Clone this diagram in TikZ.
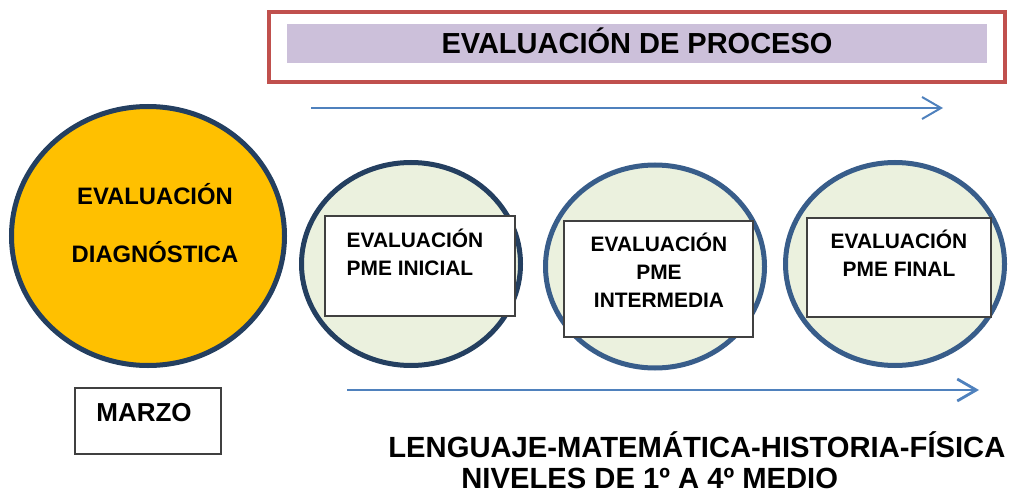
\documentclass[tikz,border=0pt]{standalone}
\usepackage{fontspec}
\setmainfont{Liberation Sans}
\usetikzlibrary{shapes.geometric,arrows.meta}
\definecolor{evred}{RGB}{192,80,77}
\definecolor{evlila}{RGB}{204,192,218}
\definecolor{evblue}{RGB}{79,129,189}
\definecolor{evgold}{RGB}{255,192,0}
\definecolor{evnavy}{RGB}{36,63,96}
\definecolor{evsteel}{RGB}{56,93,138}
\definecolor{evgreen}{RGB}{235,241,222}
\definecolor{evgray}{RGB}{64,64,64}

\begin{document}
\begin{tikzpicture}[x=0.5pt,y=-0.5pt,
  fase/.style={ellipse, fill=evgreen, line width=2.5pt, minimum width=109.5pt, minimum height=101.5pt, inner sep=0pt},
  caja/.style={rectangle, draw=evgray, fill=white, line width=0.8pt, inner sep=0pt},
  rotulo/.style={font=\bfseries\fontsize{10.45}{14}\selectfont, inner sep=0pt},
  flecha/.style={evblue, -{Straight Barb[length=9.5pt,width=11pt]}}]
\useasboundingbox (0,0) rectangle (1010,497);

% Title frame
\node[draw=evred, line width=2.4pt, minimum width=368pt, minimum height=35pt] (marco) at (637,47) {};
\node[fill=evlila, minimum width=350pt, minimum height=19.5pt, inner sep=0pt] (banda) at (637,43.5) {};
\node[font=\bfseries\fontsize{14.5}{17}\selectfont, inner sep=0pt] (titulo) at (637,41) {EVALUACIÓN DE PROCESO};

% Time arrows
\coordinate (arribaA) at (311,108);
\coordinate (arribaB) at (943,108);
\draw[flecha, line width=1pt] (arribaA) -- (arribaB);
\coordinate (abajoA) at (347,390);
\coordinate (abajoB) at (979,390);
\draw[flecha, line width=1.4pt] (abajoA) -- (abajoB);

% Diagnostic circle
\node[ellipse, draw=evnavy, fill=evgold, line width=2.5pt, minimum width=136.5pt, minimum height=129.5pt] (diag) at (148,236) {};
\node[font=\bfseries\fontsize{11.9}{29}\selectfont, align=center, inner sep=0pt] (diagtxt) at (155,223) {EVALUACIÓN\\DIAGNÓSTICA};

% PME phases
\foreach \name/\x/\y/\col in {ini/411/264/evnavy, med/655/266.5/evsteel, fin/895/264/evsteel} {
  \node[fase, draw=\col] (c\name) at (\x,\y) {};
}

% Boxes
\node[caja, minimum width=95pt, minimum height=50pt] (bini) at (420,266) {};
\node[rotulo, align=left] (tini) at (415,252) {EVALUACIÓN\\PME INICIAL};
\node[caja, minimum width=94.5pt, minimum height=58pt] (bmed) at (658.5,279) {};
\node[rotulo, align=center] (tmed) at (659,270.5) {EVALUACIÓN\\PME\\INTERMEDIA};
\node[caja, minimum width=92pt, minimum height=49.5pt] (bfin) at (899,267.5) {};
\node[rotulo, align=center] (tfin) at (899,253) {EVALUACIÓN\\PME FINAL};

% Month
\node[caja, minimum width=73pt, minimum height=33pt] (marzo) at (148,421) {};
\node[font=\bfseries\fontsize{13}{15}\selectfont, inner sep=0pt] (marzotxt) at (144,413) {MARZO};

% Subjects and levels
\node[anchor=west, inner sep=0pt, font=\bfseries\fontsize{14.6}{17}\selectfont] (areas) at (388,445) {LENGUAJE-MATEMÁTICA-HISTORIA-FÍSICA};
\node[anchor=west, inner sep=0pt, font=\bfseries\fontsize{14.6}{17}\selectfont] (niveles) at (461,478) {NIVELES DE 1º A 4º MEDIO};

\end{tikzpicture}
\end{document}
